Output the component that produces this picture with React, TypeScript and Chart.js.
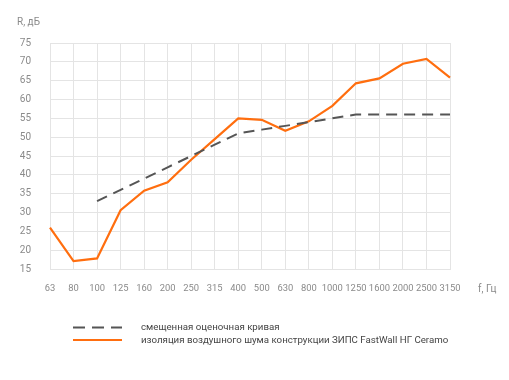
import React, { useEffect, useRef } from "react";
import { Chart, registerables } from "chart.js";

Chart.register(...registerables);

const categories = ["63", "80", "100", "125", "160", "200", "250", "315", "400", "500", "630", "800", "1000", "1250", "1600", "2000", "2500", "3150"];
const referenceCurve: (number | null)[] = [null, null, 33, 36, 39, 42, 45, 48, 51, 52, 53, 54, 55, 56, 56, 56, 56, 56];
const insulation: number[] = [26, 17.1, 17.8, 30.6, 35.8, 38, 44, 49.5, 55, 54.6, 51.7, 54.2, 58.3, 64.3, 65.6, 69.5, 70.8, 65.8];
const yTicks = [15, 20, 25, 30, 35, 40, 45, 50, 55, 60, 65, 70, 75];
const legendLabels = [
  "смещенная оценочная кривая",
  "изоляция воздушного шума конструкции ЗИПС FastWall НГ Ceramo",
];

const FONT = "Roboto, 'DejaVu Sans', sans-serif";
const ORANGE = "#ff6e0f";
const DARK = "#555555";
const GRID = "#e4e4e4";
const TICK = "#8a8a8a";

export default function App() {
  const ref = useRef<HTMLCanvasElement | null>(null);
  useEffect(() => {
    if (!ref.current) return;
    const chart = new Chart(ref.current, {
      type: "line",
      data: {
        labels: categories,
        datasets: [
          {
            label: legendLabels[0],
            data: referenceCurve,
            borderColor: DARK,
            borderWidth: 2,
            borderDash: [11, 7],
            pointRadius: 0,
            fill: false,
            tension: 0,
            spanGaps: false,
          },
          {
            label: legendLabels[1],
            data: insulation,
            borderColor: ORANGE,
            borderWidth: 2.2,
            pointRadius: 0,
            fill: false,
            tension: 0,
          },
        ],
      },
      options: {
        responsive: false,
        animation: false,
        layout: { padding: { top: 43, right: 59, left: 0, bottom: 0 } },
        plugins: { legend: { display: false }, tooltip: { enabled: false } },
        scales: {
          x: {
            type: "category",
            offset: false,
            grid: { color: GRID, drawTicks: false, lineWidth: 1 },
            border: { color: GRID },
            ticks: {
              autoSkip: false,
              maxRotation: 0,
              minRotation: 0,
              padding: 14,
              color: TICK,
              font: { family: FONT, size: 9.4 },
            },
            afterFit: (s: any) => {
              s.height = 111;
            },
          },
          y: {
            min: 15,
            max: 75,
            afterBuildTicks: (s: any) => {
              s.ticks = yTicks.map((v) => ({ value: v }));
            },
            grid: { color: GRID, drawTicks: false, lineWidth: 1 },
            border: { color: GRID },
            ticks: {
              padding: 19,
              color: TICK,
              font: { family: FONT, size: 10 },
            },
            afterFit: (s: any) => {
              s.width = 50;
            },
          },
        },
      },
    });
    return () => chart.destroy();
  }, []);

  const textStyle: React.CSSProperties = {
    position: "absolute",
    fontFamily: FONT,
    fontSize: 10,
    lineHeight: "12px",
    whiteSpace: "nowrap",
  };
  const legendStyle: React.CSSProperties = {
    position: "absolute",
    fontFamily: FONT,
    fontSize: 9.7,
    lineHeight: "12px",
    whiteSpace: "nowrap",
    color: "#444",
  };

  return (
    <div style={{ position: "absolute", left: 0, top: 0, width: 509, height: 380, background: "#fff" }}>
      <canvas ref={ref} width={509} height={380} style={{ position: "absolute", left: 0, top: 0 }} />
      <div style={{ ...textStyle, left: 17, top: 16, color: TICK }}>R, дБ</div>
      <div style={{ ...textStyle, left: 478, top: 283, color: TICK }}>f, Гц</div>
      <svg width={60} height={30} style={{ position: "absolute", left: 70, top: 318 }}>
        <line x1={3} y1={9.5} x2={52} y2={9.5} stroke={DARK} strokeWidth={2} strokeDasharray="12 7" />
        <line x1={3} y1={22} x2={52} y2={22} stroke={ORANGE} strokeWidth={2} />
      </svg>
      <div style={{ ...legendStyle, left: 141, top: 321 }}>{legendLabels[0]}</div>
      <div style={{ ...legendStyle, left: 141, top: 334 }}>{legendLabels[1]}</div>
    </div>
  );
}
